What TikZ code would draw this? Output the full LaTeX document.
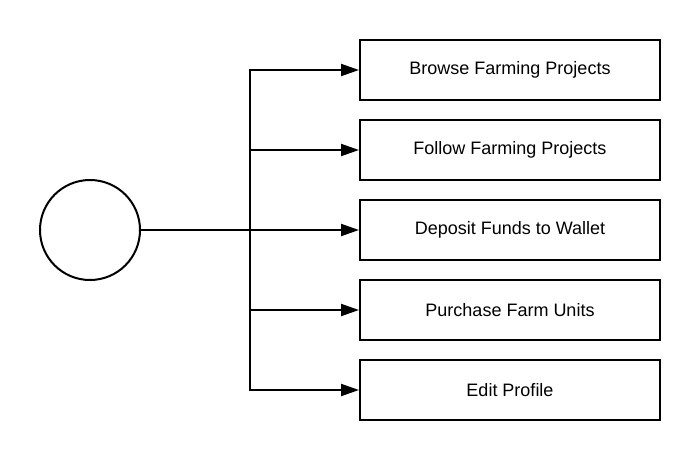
\documentclass[tikz,border=0pt]{standalone}
\usepackage{fontspec}
\setmainfont{Liberation Sans}
\usetikzlibrary{positioning, arrows.meta}
\tikzset{
    every path/.style={line width=2pt}, % thick lines everywhere
    >={Triangle[length=18pt, width=12pt]}, % filled arrow heads
    node distance=18pt, % gap between the boxes
}

\begin{document}
\begin{tikzpicture}[
                        x=1pt, y=1pt,
                        styleTask/.style={draw, line width=2pt, minimum width=300pt, minimum height=60pt, font=\fontsize{18}{21}\selectfont},
                        styleActor/.style={circle, draw, line width=2pt, minimum size=100pt},
                    ]
                    \useasboundingbox (0,0) rectangle (700,-460);
                    \node[styleActor] (user) at (90,-230) {};
                    \node[styleTask] (browse) at (510,-70) {Browse Farming Projects};
                    \node[styleTask, below=of browse] (follow) {Follow Farming Projects};
                    \node[styleTask, below=of follow] (deposit) {Deposit Funds to Wallet};
                    \node[styleTask, below=of deposit] (purchase) {Purchase Farm Units};
                    \node[styleTask, below=of purchase] (profile) {Edit Profile};
                    \coordinate (split) at (250,-230);
                    \draw (user) -- (split);
                    \draw[->] (split) |- (browse);
                    \draw[->] (split) |- (follow);
                    \draw[->] (split) -- (deposit);
                    \draw[->] (split) |- (purchase);
                    \draw[->] (split) |- (profile);
                \end{tikzpicture}
\end{document}
